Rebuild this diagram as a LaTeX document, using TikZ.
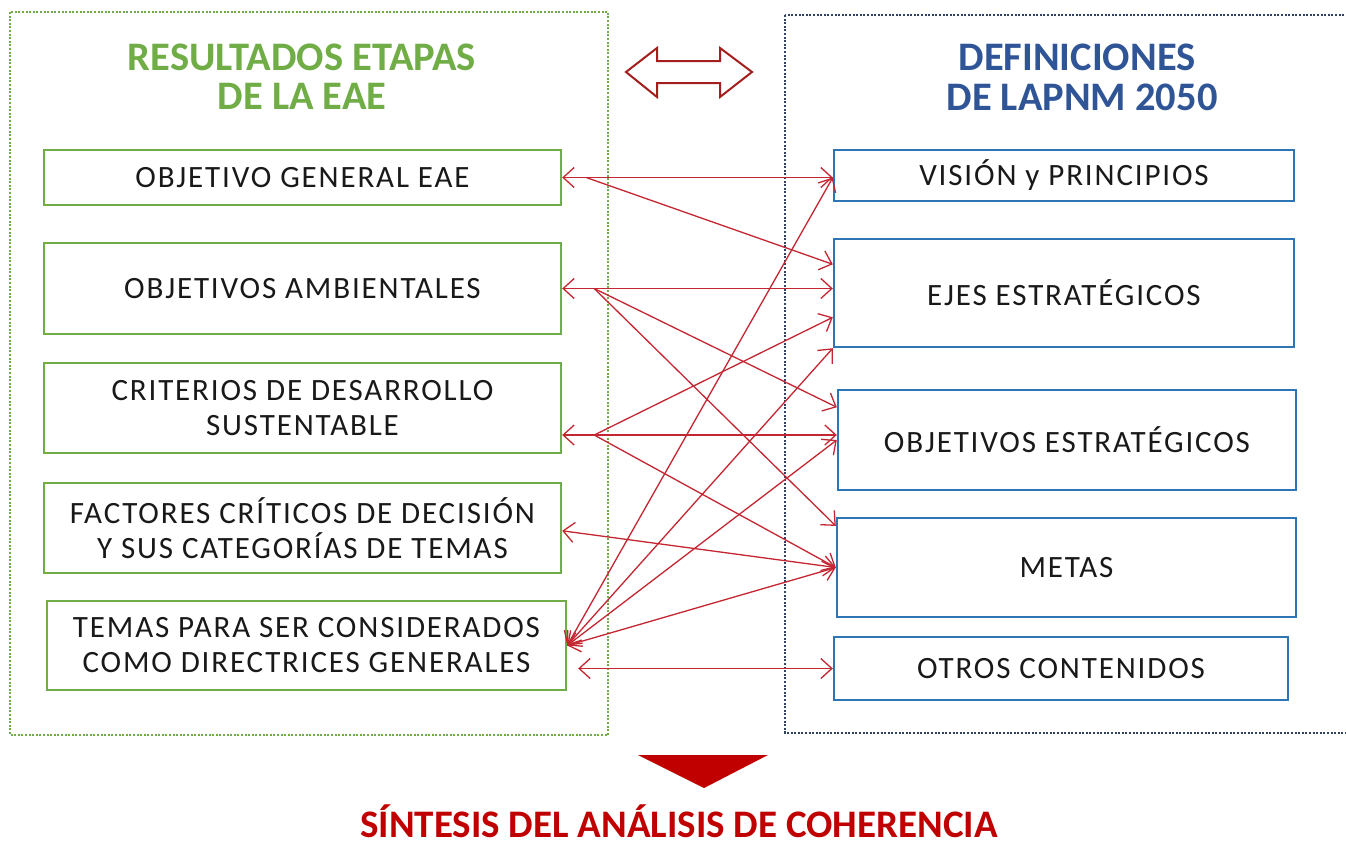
\documentclass[tikz,border=0pt]{standalone}
\usepackage{fontspec}
\setmainfont{Carlito}
\newfontfamily\bodyfont[LetterSpace=6]{Carlito}
\usetikzlibrary{arrows.meta,calc}
\definecolor{gbox}{RGB}{112,173,71}
\definecolor{bbox}{RGB}{46,117,182}
\definecolor{btitle}{RGB}{47,85,151}
\definecolor{cred}{RGB}{196,38,50}
\definecolor{dred}{RGB}{192,0,0}
\definecolor{arrred}{RGB}{165,30,30}
\definecolor{dotblue}{RGB}{50,65,95}
\definecolor{txt}{RGB}{25,25,25}
\tikzset{
  boxbase/.style={line width=2.4pt, fill=white, inner sep=0pt, align=center, text=txt,
    font=\bodyfont\fontsize{31}{35}\selectfont},
  lbox/.style={boxbase, draw=gbox},
  rbox/.style={boxbase, draw=bbox},
  container/.style={line width=2.2pt, dash pattern=on 2pt off 1.6pt},
  ltitle/.style={anchor=base, text=gbox, font=\bfseries\fontsize{40.5}{41}\selectfont},
  rtitle/.style={anchor=base, text=btitle, font=\bfseries\fontsize{40.5}{41}\selectfont},
  conn/.style={draw=cred, line width=1.3pt},
  bi/.style={conn, {Straight Barb[length=11pt,width=20pt]}-{Straight Barb[length=11pt,width=20pt]}},
  fw/.style={conn, -{Straight Barb[length=11pt,width=20pt]}}
}
\begin{document}
\begin{tikzpicture}[x=1pt,y=-1pt]
\useasboundingbox (0,0) rectangle (1346,847);
\fill[white] (0,0) rectangle (1346,847);

% containers
\draw[container, draw=gbox] (10,12) rectangle (608,735);
\draw[container, draw=dotblue] (785,15) rectangle (1360,733);

% titles
\node[ltitle] (lt1) at (302,70) {RESULTADOS ETAPAS};
\node[ltitle] (lt2) at (302,109) {DE LA EAE};
\node[rtitle] (rt1) at (1077,70) {DEFINICIONES};
\node[rtitle] (rt2) at (1082,110) {DE LAPNM 2050};

% double arrow
\draw[arrred, line width=2pt, fill=white, line join=miter]
  (626,72) -- (657,48) -- (657,61) -- (720,61) -- (720,48) -- (752,72)
  -- (720,97) -- (720,83) -- (657,83) -- (657,97) -- cycle;

% left boxes
\node[lbox, minimum width=517, minimum height=55] (ogen) at (302.5,177.5) {OBJETIVO GENERAL EAE};
\node[lbox, minimum width=517, minimum height=91] (oamb) at (302.5,288.5) {OBJETIVOS AMBIENTALES};
\node[lbox, minimum width=517, minimum height=90] (crit) at (302.5,408) {CRITERIOS DE DESARROLLO\\SUSTENTABLE};
\node[lbox, minimum width=517, minimum height=90] (fact) at (302.5,528) {FACTORES CRÍTICOS DE DECISIÓN\\Y SUS CATEGORÍAS DE TEMAS};
\node[lbox, minimum width=519, minimum height=89] (temas) at (306.5,645.5) {TEMAS PARA SER CONSIDERADOS\\COMO DIRECTRICES GENERALES};

% right boxes
\node[rbox, minimum width=460, minimum height=51] (vis) at (1064,175.5) {VISIÓN y PRINCIPIOS};
\node[rbox, minimum width=460, minimum height=108] (ejes) at (1064,293) {EJES ESTRATÉGICOS};
\node[rbox, minimum width=458, minimum height=100] (oest) at (1067,440) {OBJETIVOS ESTRATÉGICOS};
\node[rbox, minimum width=459, minimum height=99] (metas) at (1066.5,567.5) {METAS};
\node[rbox, minimum width=454, minimum height=63] (otros) at (1061,668.5) {OTROS CONTENIDOS};

% hubs and helper coordinates
\coordinate (h1) at ($(ogen.east)+(24,0)$);
\coordinate (h2) at ($(oamb.east)+(32,0)$);
\coordinate (h3) at ($(crit.east)+(32,27)$);
\coordinate (vR) at (ogen.east -| vis.west);
\coordinate (oL) at ($(otros.west -| temas.east)+(11,0)$);

% connectors
\draw[bi] (ogen.east) -- (vR);
\draw[fw] (h1) -- ($(ejes.north west)!0.24!(ejes.south west)$);
\draw[bi] (oamb.east) -- (oamb.east -| ejes.west);
\draw[fw] (h2) -- ($(oest.north west)!0.18!(oest.south west)$);
\draw[fw] (h2) -- ($(metas.north west)!0.09!(metas.south west)$);
\draw[bi] (h3 -| crit.east) -- (h3 -| oest.west);
\draw[fw] (h3) -- ($(ejes.north west)!0.72!(ejes.south west)$);
\draw[fw] (h3) -- (metas.west);
\draw[bi] ($(fact.north east)!0.53!(fact.south east)$) -- (metas.west);
\draw[bi] (temas.east) -- (vR);
\draw[bi] (temas.east) -- (ejes.south west);
\draw[bi] (temas.east) -- (oest.west);
\draw[bi] (temas.east) -- (metas.west);
\draw[bi] (oL) -- (otros.west);

% bottom
\fill[dred] (638,755) -- (768,755) -- (704,788) -- cycle;
\node[anchor=base, text=dred, font=\bfseries\fontsize{39}{40}\selectfont] (sint) at (679,837) {SÍNTESIS DEL ANÁLISIS DE COHERENCIA};
\end{tikzpicture}
\end{document}
